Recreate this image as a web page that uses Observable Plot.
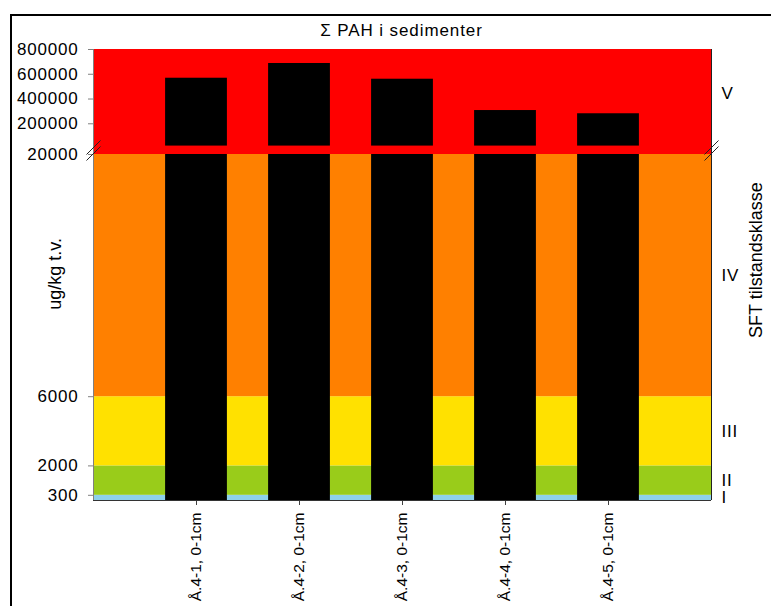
<!DOCTYPE html>
<html>
<head>
<meta charset="utf-8">
<script src="https://cdn.jsdelivr.net/npm/d3@7"></script>
<script src="https://cdn.jsdelivr.net/npm/@observablehq/plot@0.6"></script>
<style>
  body { margin: 0; background: #fff; }
  #wrap { position: relative; width: 771px; height: 606px; overflow: hidden; font-family: "Liberation Sans", Arial, sans-serif; }
  #wrap svg { position: absolute; left: 0; overflow: visible; }
  #frame { position: absolute; left: 10px; top: 14px; width: 800px; height: 700px; border-left: 2px solid #000; border-top: 2px solid #000; pointer-events: none; }
  #title { position: absolute; top: 21px; left: 0; width: 803px; text-align: center; font-size: 17px; letter-spacing: 0.9px; line-height: normal; }
  svg text { letter-spacing: 0.8px; }
  g[aria-label="x-axis tick label"] text, g.rot text { letter-spacing: 0; }
  g[aria-label="x-axis tick label"] { font-size: 15.5px; }
  g.rot { font-size: 18px; }
  g[aria-label="y-axis tick"] { stroke: #808080; }
  g[aria-label="x-axis tick"] { stroke: #404040; }
</style>
</head>
<body>
<div id="wrap"></div>
<script>
// ---- data ----
const samples = ["Å.4-1, 0-1cm", "Å.4-2, 0-1cm", "Å.4-3, 0-1cm", "Å.4-4, 0-1cm", "Å.4-5, 0-1cm"];
const sumPAH = [568000, 687000, 560000, 307000, 281000];
const classLimits = [0, 300, 2000, 6000, 20000];
const classNames = ["I", "II", "III", "IV"];
const classColors = ["#8ed1ea", "#99cc1a", "#ffe100", "#ff8000"];
const classVName = "V";
const classVColor = "#ff0000";
const lowerTicks = [300, 2000, 6000, 20000];
const upperTicks = [200000, 400000, 600000, 800000];
const breakValue = 20000;
const upperDomain = [-48000, 800000];
const titleText = "Σ PAH i sedimenter";
const yTitle = "ug/kg t.v.";
const rightTitle = "SFT tilstandsklasse";

// ---- derived tables ----
const xDomain = [0, samples.length + 1];
const bars = samples.map((s, i) => ({ name: s, pos: i + 1, v: sumPAH[i], x1: i + 1 - 0.3, x2: i + 1 + 0.3 }));
const bands = classNames.map((n, i) => ({ name: n, lo: classLimits[i], hi: classLimits[i + 1], mid: (classLimits[i] + classLimits[i + 1]) / 2, color: classColors[i] }));

const W = 771, ML = 93, MR = 60;
const font = { fontFamily: "'Liberation Sans', Arial, sans-serif", fontSize: "17px", background: "transparent", overflow: "visible", color: "#000" };

const upper = Plot.plot({
  width: W, height: 154, marginTop: 49, marginBottom: 0, marginLeft: ML, marginRight: MR,
  style: font,
  x: { domain: xDomain, axis: null },
  y: { domain: upperDomain, ticks: upperTicks, tickFormat: d => String(d), tickSize: 5, tickPadding: 10, label: null },
  color: { type: "identity" },
  marks: [
    Plot.rect([upperDomain], { y1: d => d[0], y2: d => d[1], fill: classVColor }),
    Plot.rect(bars, { x1: "x1", x2: "x2", y1: d => breakValue, y2: "v", fill: "#000" }),
    Plot.ruleX([xDomain[0]], { stroke: "#808080" }),
    Plot.ruleX([xDomain[1]], { stroke: "#222" }),
    Plot.text([classVName], { x: xDomain[1], y: 445000, text: d => d, textAnchor: "start", dx: 10, fill: "#000" })
  ]
});
upper.style.top = "0px";

const unitsPerPx = breakValue / 346;
const xPerPx = xDomain[1] / 618;
const breakLinks = [xDomain[0], xDomain[1]].flatMap(x => [1, 7].map(o => ({
  x1: x - 7 * xPerPx, x2: x + 7 * xPerPx,
  y1: breakValue + (o - 7) * unitsPerPx, y2: breakValue + (o + 7) * unitsPerPx
})));

const lower = Plot.plot({
  width: W, height: 452, marginTop: 0, marginBottom: 106, marginLeft: ML, marginRight: MR,
  style: font,
  x: { domain: xDomain, ticks: bars.map(d => d.pos), tickFormat: p => samples[p - 1], tickRotate: -90, tickSize: 5, tickPadding: 7, label: null },
  y: { domain: [0, breakValue], ticks: lowerTicks, tickFormat: d => String(d), tickSize: 5, tickPadding: 10, label: null },
  color: { type: "identity" },
  marks: [
    Plot.rect(bands, { y1: "lo", y2: "hi", fill: "color" }),
    Plot.rect(bars, { x1: "x1", x2: "x2", y1: d => 0, y2: d => Math.min(d.v, breakValue), fill: "#000" }),
    Plot.ruleX([xDomain[0]], { stroke: "#808080" }),
    Plot.ruleX([xDomain[1]], { stroke: "#222" }),
    Plot.ruleY([0], { stroke: "#333" }),
    Plot.link(breakLinks, { x1: "x1", x2: "x2", y1: "y1", y2: "y2", stroke: "#222", strokeWidth: 1 }),
    Plot.text(bands, { x: xDomain[1], y: "mid", text: "name", textAnchor: "start", dx: 10, fill: "#000" }),
    Plot.text([yTitle], { x: xDomain[0], y: 13100, text: d => d, rotate: -90, dx: -38, fill: "#000", className: "rot" }),
    Plot.text([rightTitle], { x: xDomain[1], y: 13900, text: d => d, rotate: -90, dx: 45, fill: "#000", className: "rot" })
  ]
});
lower.style.top = "154px";

const wrap = document.getElementById("wrap");
wrap.appendChild(upper);
wrap.appendChild(lower);
const frame = document.createElement("div"); frame.id = "frame"; wrap.appendChild(frame);
const title = document.createElement("div"); title.id = "title"; title.textContent = titleText; wrap.appendChild(title);
</script>
</body>
</html>
